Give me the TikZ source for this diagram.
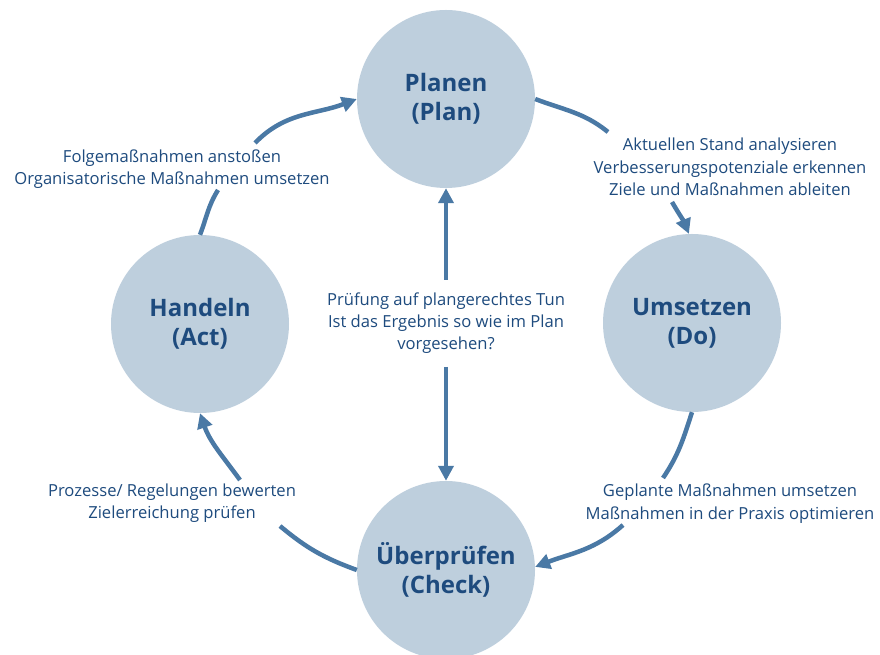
\documentclass[tikz,border=0pt]{standalone}
\usepackage{fontspec}
\setmainfont{Open Sans}
\usetikzlibrary{arrows.meta}

\definecolor{phasefill}{HTML}{BECFDD}
\definecolor{phasetext}{HTML}{1E4B7E}
\definecolor{flowline}{HTML}{4A79A5}

\tikzset{
  phase/.style={circle, fill=phasefill, minimum size=178pt, inner sep=0pt,
    text=phasetext, align=center,
    font=\fontsize{24}{29}\selectfont\bfseries},
  note/.style={text=phasetext, align=center, inner sep=0pt,
    font=\fontsize{16.6}{22.3}\selectfont},
  flow/.style={draw=flowline, line width=4.5pt},
  flowtip/.style={flow, -{Triangle[length=15pt, width=15pt]}}
}

\begin{document}
\begin{tikzpicture}[x=1pt, y=1pt]
  \clip (0,0) rectangle (880,655);
  \fill[white] (0,0) rectangle (880,655);

  % the four phases of the cycle
  \node[phase] (plan)  at (446,556) {Planen\\(Plan)};
  \node[phase] (do)    at (692,332) {Umsetzen\\(Do)};
  \node[phase] (check) at (446,85)  {Überprüfen\\(Check)};
  \node[phase] (act)   at (200,331) {Handeln\\(Act)};

  % descriptions between the phases
  \node[note] (tplan) at (730,488)
    {Aktuellen Stand analysieren\\Verbesserungspotenziale erkennen\\Ziele und Maßnahmen ableiten};
  \node[note] (tdo) at (730,151.5)
    {Geplante Maßnahmen umsetzen\\Maßnahmen in der Praxis optimieren};
  \node[note] (tcheck) at (172,151.5)
    {Prozesse/ Regelungen bewerten\\Zielerreichung prüfen};
  \node[note] (tact) at (172,485.5)
    {Folgemaßnahmen anstoßen\\Organisatorische Maßnahmen umsetzen};
  \node[note] (tmid) at (446,332)
    {Prüfung auf plangerechtes Tun\\Ist das Ergebnis so wie im Plan\\vorgesehen?};

  % break points of the cycle arrows around the texts
  \coordinate (p1) at (608,523);
  \coordinate (p2) at (672,453);
  \coordinate (d1) at (663,177);
  \coordinate (d2) at (623,130);
  \coordinate (c1) at (280,129);
  \coordinate (c2) at (240,175);
  \coordinate (a1) at (218,465);
  \coordinate (a2) at (255,512);
  \coordinate (m1) at (446,375);
  \coordinate (m2) at (446,288);

  % cycle: Plan -> Do -> Check -> Act -> Plan
  \draw[flow]    (plan.0)  to[out=-21,  in=141] (p1);
  \draw[flowtip] (p2)      to[out=-60,  in=112] (do.92);
  \draw[flow]    (do.-90)  to[out=-108, in=56]  (d1);
  \draw[flowtip] (d2)      to[out=-138, in=21]  (check.2);
  \draw[flow]    (check.180) to[out=160, in=-40] (c1);
  \draw[flowtip] (c2)      to[out=126,  in=-71] (act.-90);
  \draw[flow]    (act.90)  to[out=69,   in=238] (a1);
  \draw[flowtip] (a2)      to[out=46,   in=201] (plan.180);

  % check against the plan
  \draw[flowtip] (m1) -- (plan.south);
  \draw[flowtip] (m2) -- (check.north);
\end{tikzpicture}
\end{document}
